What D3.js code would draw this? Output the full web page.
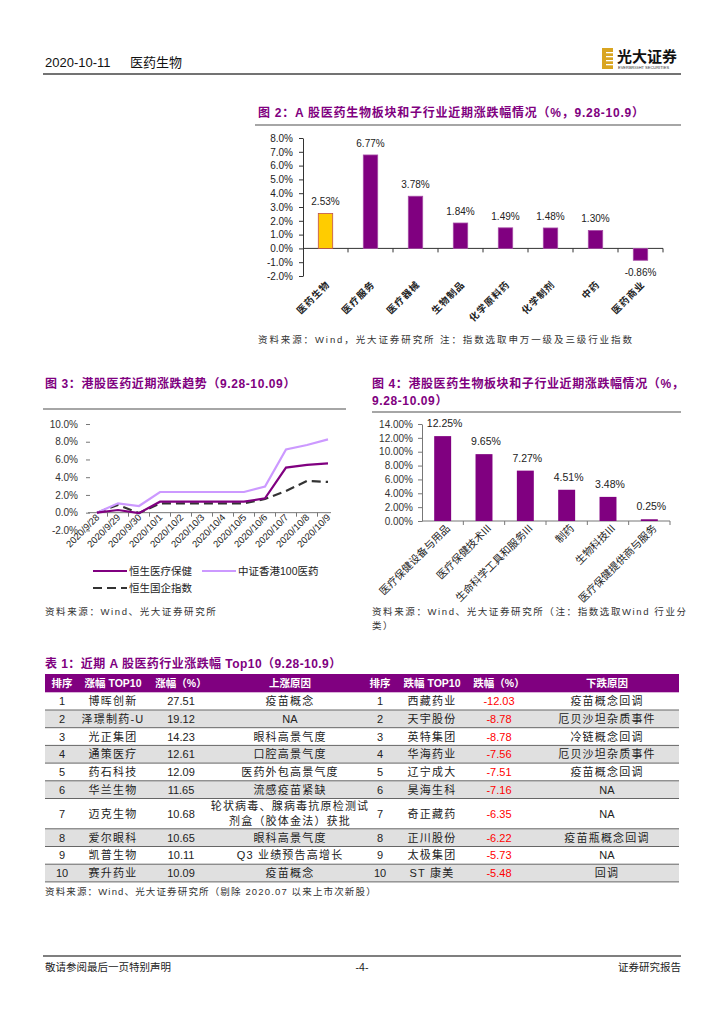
<!DOCTYPE html>
<html>
<head>
<meta charset="utf-8">
<script src="https://cdn.jsdelivr.net/npm/d3@7"></script>
<style>
  body { margin: 0; background: #fff; }
  svg { display: block; }
</style>
</head>
<body>
<script>
// page 4 of the report: fig 2, fig 3, fig 4 and table 1

const FONT = "'Liberation Sans', 'Noto Sans CJK SC', sans-serif"
const PURPLE = "#800080"

// fig 2 data (A-share sectors)
const fig2Cats = ["医药生物", "医疗服务", "医疗器械", "生物制品", "化学原料药", "化学制剂", "中药", "医药商业"]
const fig2Vals = [2.53, 6.77, 3.78, 1.84, 1.49, 1.48, 1.30, -0.86]
const fig2Ticks = [-2, -1, 0, 1, 2, 3, 4, 5, 6, 7, 8]

// fig 3 data (HK indices)
const fig3Dates = ["2020/9/28", "2020/9/29", "2020/9/30", "2020/10/1", "2020/10/2", "2020/10/3",
  "2020/10/4", "2020/10/5", "2020/10/6", "2020/10/7", "2020/10/8", "2020/10/9"]
const hsHealth = [0, 0.30, -0.05, 1.24, 1.24, 1.24, 1.24, 1.24, 1.62, 5.09, 5.40, 5.55]
const csiHkPharma = [0, 1.05, 0.75, 2.33, 2.33, 2.33, 2.33, 2.33, 2.95, 7.14, 7.63, 8.27]
const hscei = [0, 0.87, -0.05, 1.05, 1.05, 1.05, 1.05, 1.05, 1.55, 2.45, 3.58, 3.47]
const fig3Ticks = [-2, 0, 2, 4, 6, 8, 10]

// fig 4 data (HK sub-industries)
const fig4Cats = ["医疗保健设备与用品", "医疗保健技术III", "生命科学工具和服务III", "制药", "生物科技III", "医疗保健提供商与服务"]
const fig4Vals = [12.25, 9.65, 7.27, 4.51, 3.48, 0.25]
const fig4Ticks = [0, 2, 4, 6, 8, 10, 12, 14]

// table 1
const tableHead = ["排序", "涨幅 TOP10", "涨幅（%）", "上涨原因", "排序", "跌幅 TOP10", "跌幅（%）", "下跌原因"]
const upNames = ["博晖创新", "泽璟制药-U", "光正集团", "通策医疗", "药石科技", "华兰生物", "迈克生物", "爱尔眼科", "凯普生物", "赛升药业"]
const upPct = [27.51, 19.12, 14.23, 12.61, 12.09, 11.65, 10.68, 10.65, 10.11, 10.09]
const upReason = ["疫苗概念", "NA", "眼科高景气度", "口腔高景气度", "医药外包高景气度", "流感疫苗紧缺",
  "轮状病毒、腺病毒抗原检测试\n剂盒（胶体金法）获批", "眼科高景气度", "Q3 业绩预告高增长", "疫苗概念"]
const downNames = ["西藏药业", "天宇股份", "英特集团", "华海药业", "辽宁成大", "昊海生科", "奇正藏药", "正川股份", "太极集团", "ST 康美"]
const downPct = [-12.03, -8.78, -8.78, -7.56, -7.51, -7.16, -6.35, -6.22, -5.73, -5.48]
const downReason = ["疫苗概念回调", "厄贝沙坦杂质事件", "冷链概念回调", "厄贝沙坦杂质事件", "疫苗概念回调",
  "NA", "NA", "疫苗瓶概念回调", "NA", "回调"]

const svg = d3.select("body").append("svg")
  .attr("width", 724)
  .attr("height", 1024)
  .style("font-family", FONT)
svg.append("rect").attr("width", 724).attr("height", 1024).attr("fill", "#fff")

function txt(x, y, s, size, opts = {}) {
  return svg.append("text")
    .attr("x", x).attr("y", y)
    .attr("font-size", size)
    .attr("fill", opts.fill || "#222")
    .attr("font-weight", opts.weight || "normal")
    .attr("text-anchor", opts.anchor || "start")
    .attr("letter-spacing", opts.ls || 0)
    .text(s)
}
function hline(x1, x2, y, color, w) {
  svg.append("line").attr("x1", x1).attr("x2", x2).attr("y1", y).attr("y2", y)
    .attr("stroke", color).attr("stroke-width", w)
}

// ---------- page header / footer ----------
txt(45, 67, "2020-10-11", 13, { fill: "#111" })
txt(130, 67, "医药生物", 13, { fill: "#111" })
hline(43, 681, 74, "#444", 1.5)

// logo
const logo = svg.append("g").attr("transform", "translate(602,48)")
logo.append("rect").attr("width", 11).attr("height", 21).attr("fill", "#d9a520")
;[4, 8, 12, 16].forEach(d => {
  logo.append("rect").attr("x", 4).attr("y", d).attr("width", 8).attr("height", 1.3).attr("fill", "#fff")
})
logo.append("text").attr("x", 15).attr("y", 14).attr("font-size", 15).attr("font-weight", "bold")
  .attr("fill", "#111").attr("font-family", "'Noto Sans CJK SC'").text("光大证券")
logo.append("text").attr("x", 16).attr("y", 20.5).attr("font-size", 4).attr("fill", "#333")
  .text("EVERBRIGHT SECURITIES")

hline(43, 681, 956, "#555", 1.5)
txt(45, 971, "敬请参阅最后一页特别声明", 10.5, { fill: "#222" })
txt(362, 971, "-4-", 10.5, { anchor: "middle" })
txt(681, 971, "证券研究报告", 10.5, { anchor: "end" })

// ---------- fig 2 ----------
txt(258, 117, "图 2：A 股医药生物板块和子行业近期涨跌幅情况（%，9.28-10.9）", 12, { fill: PURPLE, weight: "bold", ls: 0.75 })
hline(255, 681, 125, "#888", 1.5)

const x2 = d3.scaleBand().domain(fig2Cats).range([303, 663]).paddingInner(0.68).paddingOuter(0.34)
const y2 = d3.scaleLinear().domain([-2, 8]).range([276, 138])

const g2 = svg.append("g")
const y2Axis = g2.append("g").attr("transform", "translate(303,0)")
  .call(d3.axisLeft(y2).tickValues(fig2Ticks).tickFormat(d => d.toFixed(1) + "%").tickSize(4).tickSizeOuter(0).tickPadding(6))
y2Axis.selectAll("text").attr("font-size", 10).attr("fill", "#222").attr("font-family", FONT)
y2Axis.selectAll("line, path").attr("stroke", "#333")

g2.append("line").attr("x1", 303).attr("x2", 663).attr("y1", y2(0)).attr("y2", y2(0)).attr("stroke", "#333")
d3.range(1, fig2Cats.length + 1).forEach(i => {
  const xx = 303 + x2.step() * i
  g2.append("line").attr("x1", xx).attr("x2", xx).attr("y1", y2(0)).attr("y2", y2(0) + 4).attr("stroke", "#333")
})

g2.selectAll(".bar2").data(fig2Vals).enter().append("rect")
  .attr("x", (d, i) => x2(fig2Cats[i]))
  .attr("width", x2.bandwidth())
  .attr("y", d => y2(Math.max(0, d)))
  .attr("height", d => Math.abs(y2(d) - y2(0)))
  .attr("fill", (d, i) => i === 0 ? "#ffcc00" : PURPLE)
  .attr("stroke", (d, i) => i === 0 ? "#c0504d" : "#a64ca6")
  .attr("stroke-width", 0.8)

g2.selectAll(".lab2").data(fig2Vals).enter().append("text")
  .attr("x", (d, i) => x2(fig2Cats[i]) + x2.bandwidth() / 2)
  .attr("y", d => d >= 0 ? y2(d) - 8 : y2(d) + 16)
  .attr("text-anchor", "middle").attr("font-size", 10).attr("fill", "#222")
  .text(d => d.toFixed(2) + "%")

g2.selectAll(".cat2").data(fig2Cats).enter().append("text")
  .attr("transform", d => `translate(${x2(d) + x2.bandwidth() / 2 + 5},${285}) rotate(-45)`)
  .attr("text-anchor", "end").attr("font-size", 9.5).attr("font-weight", "bold").attr("fill", "#222")
  .attr("font-family", "'Noto Sans CJK SC'").attr("letter-spacing", 1)
  .text(d => d)

txt(258, 343, "资料来源：Wind，光大证券研究所   注：指数选取申万一级及三级行业指数", 9.5, { fill: "#333", ls: 1.9 })

// ---------- fig 3 ----------
txt(45, 388, "图 3：港股医药近期涨跌趋势（9.28-10.09）", 12, { fill: PURPLE, weight: "bold", ls: 0.6 })
hline(43, 346, 409, "#888", 1.5)

const x3 = d3.scalePoint().domain(fig3Dates).range([97, 328])
const y3 = d3.scaleLinear().domain([-2, 10]).range([530.4, 424])

const g3 = svg.append("g")
const y3Axis = g3.append("g").attr("transform", "translate(90,0)")
  .call(d3.axisLeft(y3).tickValues(fig3Ticks).tickFormat(d => d.toFixed(1) + "%").tickSize(4).tickSizeOuter(0).tickPadding(8))
y3Axis.select(".domain").remove()
y3Axis.selectAll("text").attr("font-size", 10).attr("fill", "#333").attr("font-family", FONT)
y3Axis.selectAll("line").attr("stroke", "#777")

g3.append("line").attr("x1", 88).attr("x2", 331).attr("y1", y3(0)).attr("y2", y3(0)).attr("stroke", "#777")
d3.range(0, fig3Dates.length - 1).forEach(i => {
  const xx = x3(fig3Dates[i]) + x3.step() / 2
  g3.append("line").attr("x1", xx).attr("x2", xx).attr("y1", y3(0)).attr("y2", y3(0) + 4).attr("stroke", "#777")
})

const line3 = d3.line().x((d, i) => x3(fig3Dates[i])).y(d => y3(d))
g3.append("path").attr("d", line3(hscei)).attr("fill", "none")
  .attr("stroke", "#333").attr("stroke-width", 2.2).attr("stroke-dasharray", "9,5")
g3.append("path").attr("d", line3(csiHkPharma)).attr("fill", "none")
  .attr("stroke", "#cc99ff").attr("stroke-width", 2.2)
g3.append("path").attr("d", line3(hsHealth)).attr("fill", "none")
  .attr("stroke", PURPLE).attr("stroke-width", 2.2)

g3.selectAll(".date3").data(fig3Dates).enter().append("text")
  .attr("transform", d => `translate(${x3(d) + 3},${518}) rotate(-45)`)
  .attr("text-anchor", "end").attr("font-size", 9.5).attr("fill", "#222")
  .text(d => d)

// legend
const legend3 = [
  { name: "恒生医疗保健", color: PURPLE, dash: null, x: 93, y: 571 },
  { name: "中证香港100医药", color: "#cc99ff", dash: null, x: 202, y: 571 },
  { name: "恒生国企指数", color: "#333", dash: "9,5", x: 93, y: 588 }
]
legend3.forEach(l => {
  g3.append("line").attr("x1", l.x).attr("x2", l.x + 34).attr("y1", l.y).attr("y2", l.y)
    .attr("stroke", l.color).attr("stroke-width", 2.2).attr("stroke-dasharray", l.dash)
  g3.append("text").attr("x", l.x + 36).attr("y", l.y + 4).attr("font-size", 10.5).attr("fill", "#222").text(l.name)
})

txt(45, 615, "资料来源：Wind、光大证券研究所", 9.5, { fill: "#333", ls: 1.6 })

// ---------- fig 4 ----------
txt(372, 388, "图 4：港股医药生物板块和子行业近期涨跌幅情况（%，", 12, { fill: PURPLE, weight: "bold", ls: 0.6 })
txt(372, 405, "9.28-10.09）", 12, { fill: PURPLE, weight: "bold", ls: 0.6 })
hline(372, 681, 412, "#888", 1.5)

const x4 = d3.scaleBand().domain(fig4Cats).range([422, 670]).paddingInner(0.59).paddingOuter(0.295)
const y4 = d3.scaleLinear().domain([0, 14]).range([521, 424])

const g4 = svg.append("g")
const y4Axis = g4.append("g").attr("transform", "translate(422,0)")
  .call(d3.axisLeft(y4).tickValues(fig4Ticks).tickFormat(d => d.toFixed(2) + "%").tickSize(4).tickSizeOuter(0).tickPadding(5))
y4Axis.selectAll("text").attr("font-size", 10).attr("fill", "#333").attr("font-family", FONT)
y4Axis.selectAll("line, path").attr("stroke", "#777")

g4.append("line").attr("x1", 422).attr("x2", 670).attr("y1", y4(0)).attr("y2", y4(0)).attr("stroke", "#777")
d3.range(1, fig4Cats.length + 1).forEach(i => {
  const xx = 422 + x4.step() * i
  g4.append("line").attr("x1", xx).attr("x2", xx).attr("y1", y4(0)).attr("y2", y4(0) + 4).attr("stroke", "#777")
})

g4.selectAll(".bar4").data(fig4Vals).enter().append("rect")
  .attr("x", (d, i) => x4(fig4Cats[i]))
  .attr("width", x4.bandwidth())
  .attr("y", d => y4(d))
  .attr("height", d => y4(0) - y4(d))
  .attr("fill", PURPLE)

g4.selectAll(".lab4").data(fig4Vals).enter().append("text")
  .attr("x", (d, i) => x4(fig4Cats[i]) + x4.bandwidth() / 2 + 2)
  .attr("y", d => y4(d) - 9)
  .attr("text-anchor", "middle").attr("font-size", 10.5).attr("fill", "#222")
  .text(d => d.toFixed(2) + "%")

g4.selectAll(".cat4").data(fig4Cats).enter().append("text")
  .attr("transform", d => `translate(${x4(d) + x4.bandwidth() / 2 + 8},${529}) rotate(-45)`)
  .attr("text-anchor", "end").attr("font-size", 10.5).attr("fill", "#222")
  .attr("font-family", "'Noto Sans CJK SC'")
  .text(d => d)

txt(372, 615, "资料来源：Wind、光大证券研究所（注：指数选取Wind 行业分", 9.5, { fill: "#333", ls: 1.6 })
txt(372, 629, "类）", 9.5, { fill: "#333", ls: 1.6 })

// ---------- table 1 ----------
txt(45, 668, "表 1：近期 A 股医药行业涨跌幅 Top10（9.28-10.9）", 12, { fill: PURPLE, weight: "bold", ls: 0.45 })

const colX = [62, 113, 181, 290, 380, 432, 499, 607]
const tLeft = 45, tRight = 679, headTop = 674, headH = 18.3, rowH = 17.7, tallH = 30.3

svg.append("rect").attr("x", tLeft).attr("y", headTop).attr("width", tRight - tLeft).attr("height", headH).attr("fill", PURPLE)
tableHead.forEach((h, i) => {
  txt(colX[i], headTop + 13, h, 10.5, { fill: "#fff", weight: "bold", anchor: "middle" })
})

let rowTops = []
let yy = headTop + headH
upNames.forEach((d, i) => {
  rowTops.push(yy)
  yy += (i === 6 ? tallH : rowH)
})
const tBottom = yy

const rows = svg.append("g")
upNames.forEach((name, i) => {
  const top = rowTops[i]
  const h = i === 6 ? tallH : rowH
  const cy = top + h / 2 + 4
  if (i % 2 === 1) {
    rows.append("rect").attr("x", tLeft).attr("y", top).attr("width", tRight - tLeft).attr("height", h).attr("fill", "#e0e0e0")
  }
  const cells = [
    [String(i + 1), "#222"],
    [name, "#222"],
    [upPct[i].toFixed(2), "#222"],
    [upReason[i], "#222"],
    [String(i + 1), "#222"],
    [downNames[i], "#222"],
    [downPct[i].toFixed(2), "#ff0000"],
    [downReason[i], "#222"]
  ]
  cells.forEach((c, j) => {
    const parts = c[0].split("\n")
    parts.forEach((p, k) => {
      const off = (k - (parts.length - 1) / 2) * 15
      rows.append("text").attr("x", colX[j]).attr("y", cy + off)
        .attr("text-anchor", "middle").attr("font-size", 11).attr("fill", c[1])
        .attr("letter-spacing", /[\u4e00-\u9fff]/.test(p) ? 1.2 : 0)
        .text(p)
    })
  })
})
rowTops.slice(1).concat([tBottom]).forEach(t => hline(tLeft, tRight, t, "#666", 1))

txt(45, 895, "资料来源：Wind、光大证券研究所（剔除 2020.07 以来上市次新股）", 9.5, { fill: "#333", ls: 1.15 })
</script>
</body>
</html>
